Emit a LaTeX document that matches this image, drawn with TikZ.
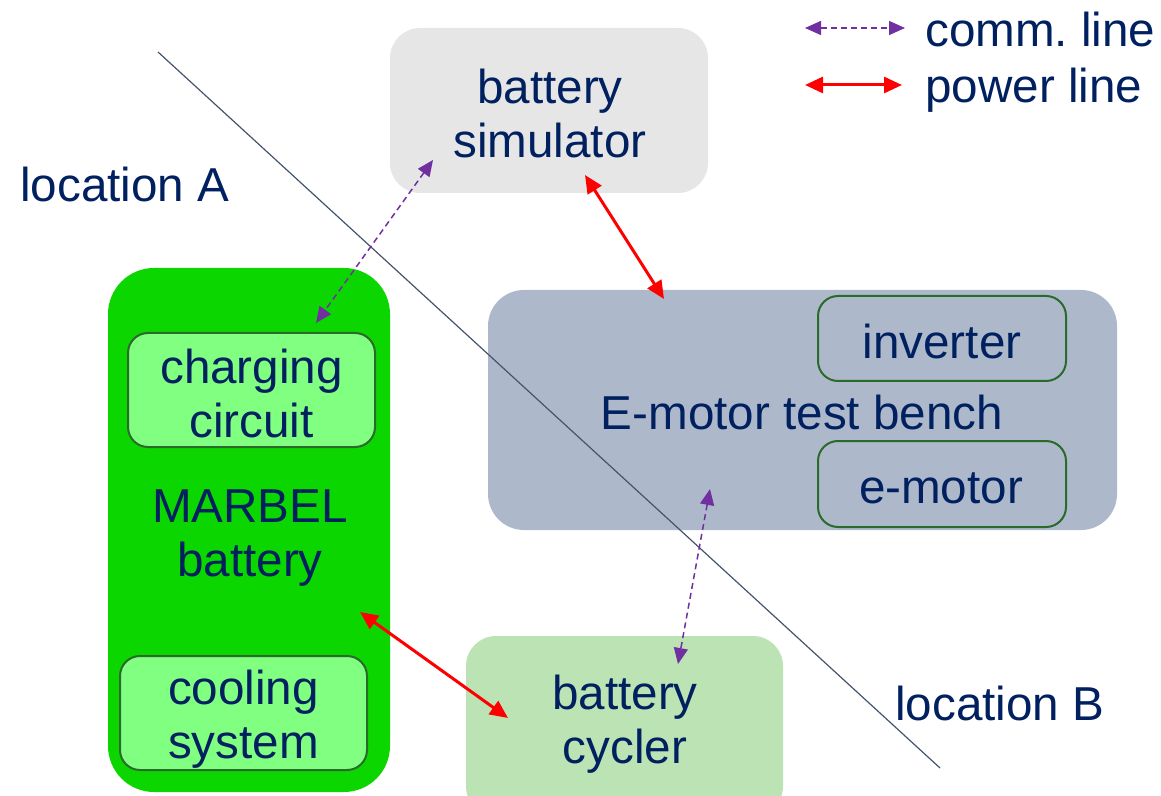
\documentclass[tikz,border=0pt]{standalone}
\usepackage{fontspec}
\setmainfont{Liberation Sans}
\usetikzlibrary{arrows.meta}
\definecolor{txt}{HTML}{002060}
\definecolor{simgray}{HTML}{E6E6E6}
\definecolor{marbel}{HTML}{0CD600}
\definecolor{inner}{HTML}{80FF80}
\definecolor{innerbd}{HTML}{2A6A2A}
\definecolor{bench}{HTML}{ADB9CA}
\definecolor{cycler}{HTML}{BBE3B3}
\definecolor{comm}{HTML}{7030A0}
\definecolor{pwr}{HTML}{FF0000}
\definecolor{sep}{HTML}{44546A}
\tikzset{
  box/.style={rectangle, inner sep=0pt, align=center, text=txt},
  sub/.style={box, draw=innerbd, line width=1pt, rounded corners=10pt},
  lbl/.style={text=txt, inner sep=0pt, anchor=west},
  commline/.style={comm, line width=0.75pt, dash pattern=on 3pt off 2pt, {Triangle[length=8pt,width=7pt]}-{Triangle[length=8pt,width=7pt]}},
  powerline/.style={pwr, line width=1.5pt, {Triangle[length=9pt,width=8pt]}-{Triangle[length=9pt,width=8pt]}},
}
\begin{document}
\begin{tikzpicture}[x=0.5pt,y=-0.5pt,font=\fontsize{23.8}{27}\selectfont]
\useasboundingbox (0,0) rectangle (1161,796);
% boxes
\node[box, fill=simgray, rounded corners=15pt, minimum width=159pt, minimum height=82.5pt] (sim) at (549,110.5) {};
\node[box] (simtxt) at (550,113) {battery\\simulator};
\node[box, fill=marbel, rounded corners=23pt, minimum width=141pt, minimum height=262pt] (marbel) at (249,530) {};
\node[box] (marbeltxt) at (250,538) {MARBEL\\battery};
\node[sub, fill=inner, minimum width=123.5pt, minimum height=57pt] (charge) at (251.5,390) {};
\node[box] (chargetxt) at (251.5,393) {charging\\circuit};
\node[sub, fill=inner, minimum width=123.5pt, minimum height=57pt] (cool) at (243.5,713) {};
\node[box] (cooltxt) at (243.5,719) {cooling\\system};
\node[box, fill=bench, rounded corners=18pt, minimum width=314.5pt, minimum height=120pt] (bench) at (802.5,410) {};
\node[box] (benchtxt) at (802,412) {E-motor test bench};
\node[sub, fill=bench, minimum width=124pt, minimum height=42.5pt] (inv) at (942,338.5) {};
\node[box] (invtxt) at (942,341) {inverter};
\node[sub, fill=bench, minimum width=124pt, minimum height=43pt] (emot) at (942,484) {};
\node[box] (emottxt) at (941,488) {e-motor};
\node[box, fill=cycler, rounded corners=15pt, minimum width=158.5pt, minimum height=90pt] (cyc) at (624.5,726) {};
\node[box] (cyctxt) at (625,724) {battery\\cycler};
% location labels
\node[lbl] (locA) at (20,184) {location A};
\node[lbl] (locB) at (895,703) {location B};
% separator line
\coordinate (s1) at (158,52);
\coordinate (s2) at (940,768);
\draw[sep, line width=0.6pt] (s1) -- (s2);
% legend
\coordinate (lc1) at (805,28);
\coordinate (lc2) at (905,28);
\coordinate (lp1) at (805,85);
\coordinate (lp2) at (902,85);
\draw[commline] (lc1) -- (lc2);
\draw[powerline] (lp1) -- (lp2);
\node[lbl] (lgc) at (925,29) {comm.\ line};
\node[lbl] (lgp) at (925,90) {power line};
% connectors
\coordinate (c1a) at (433,160);
\coordinate (c1b) at (316,323);
\draw[commline] (c1a) -- (c1b);
\coordinate (p1a) at (585,175);
\coordinate (p1b) at (664,299);
\draw[powerline] (p1a) -- (p1b);
\coordinate (p2a) at (360,612);
\coordinate (p2b) at (508,718);
\draw[powerline] (p2a) -- (p2b);
\coordinate (c2a) at (710,489);
\coordinate (c2b) at (678,664);
\draw[commline] (c2a) -- (c2b);
\end{tikzpicture}
\end{document}
